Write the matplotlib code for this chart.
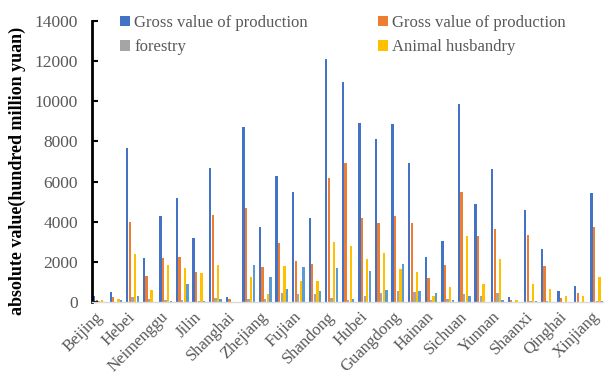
import matplotlib
matplotlib.use("Agg")
import matplotlib.pyplot as plt
import matplotlib.transforms as mtransforms
import numpy as np

provinces = ["Beijing", "Tianjin", "Hebei", "Shanxi", "Neimenggu", "Liaoning", "Jilin",
             "Heilongjiang", "Shanghai", "Jiangsu", "Zhejiang", "Anhui", "Fujian", "Jiangxi",
             "Shandong", "Henan", "Hubei", "Hunan", "Guangdong", "Guangxi", "Hainan",
             "Chongqing", "Sichuan", "Guizhou", "Yunnan", "Tibet", "Shaanxi", "Gansu",
             "Qinghai", "Ningxia", "Xinjiang"]

total = [280, 490, 7650, 2190, 4280, 5165, 3200, 6690, 265, 8730, 3720, 6275, 5480, 4200,
         12100, 10960, 8930, 8135, 8870, 6910, 2260, 3040, 9850, 4900, 6610, 230, 4580, 2660,
         530, 815, 5450]
farming = [110, 250, 4000, 1280, 2190, 2225, 1510, 4330, 150, 4680, 1760, 2920, 2040, 1910,
           6190, 6920, 4180, 3950, 4285, 3950, 1210, 1840, 5495, 3290, 3620, 90, 3320, 1790,
           215, 430, 3720]
forestry = [50, 20, 265, 150, 80, 100, 60, 180, 20, 150, 150, 465, 415, 380,
            215, 100, 300, 465, 550, 500, 100, 150, 400, 300, 465, 10, 30, 40,
            10, 20, 60]
animal = [80, 130, 2375, 580, 1840, 1680, 1460, 1840, 20, 1260, 380, 1790, 1045, 1060,
          2990, 2800, 2125, 2440, 1660, 1480, 315, 765, 3270, 900, 2160, 110, 900, 650,
          300, 315, 1260]
fishery = [10, 80, 315, 20, 50, 880, 50, 130, 20, 1830, 1260, 650, 1745, 550,
           1710, 130, 1560, 600, 1890, 565, 430, 100, 300, 20, 100, 0, 30, 10,
           5, 20, 30]

series_names = ["Gross value of production", "Gross value of production", "forestry",
                "Animal husbandry", "fishery"]
colors = ["#4472C4", "#ED7D31", "#A5A5A5", "#FFC000", "#5B9BD5"]
yticks = [0, 2000, 4000, 6000, 8000, 10000, 12000, 14000]

serif = ["Liberation Serif", "DejaVu Serif"]
grey_text = "#595959"

W, H = 604, 374
fig = plt.figure(figsize=(W / 100, H / 100), dpi=100)
left, right, bottom, top = 92, 604, 302, 21
ax = fig.add_axes([left / W, (H - bottom) / H, (right - left) / W, (bottom - top) / H])

x = np.arange(len(provinces))
step = 0.157
bw = 0.14
data = [total, farming, forestry, animal, fishery]
handles = []
for k, (vals, c) in enumerate(zip(data, colors)):
    b = ax.bar(x + (k - 2) * step, vals, width=bw, color=c, linewidth=0)
    handles.append(b)

ax.set_xlim(-0.44, 30.43)
ax.set_ylim(0, 14000)
ax.set_yticks(yticks)
ax.set_yticklabels([str(v) for v in yticks], family=serif, fontsize=12.5, color=grey_text)
ax.tick_params(axis="y", direction="in", length=4, width=1.5, color="black", pad=10)

shown = x[::2]
ax.set_xticks(shown)
ax.set_xticklabels(provinces[::2], rotation=45, ha="right", va="top",
                   rotation_mode="anchor", family=serif, fontsize=12, color=grey_text)
ax.tick_params(axis="x", length=0, pad=5)
shift = mtransforms.ScaledTranslation(-5 / 100, 0, fig.dpi_scale_trans)
for lbl in ax.get_xticklabels():
    lbl.set_transform(lbl.get_transform() + shift)

for s in ["top", "right"]:
    ax.spines[s].set_visible(False)
ax.spines["left"].set_color("black")
ax.spines["left"].set_linewidth(2)
ax.spines["bottom"].set_color("#D9D9D9")
ax.spines["bottom"].set_linewidth(1)

ax.set_ylabel("absolute value(hundred million yuan)", family=serif, fontsize=13,
              fontweight="bold", color="black")
ax.yaxis.set_label_coords(-0.128, 0.465)

# legend laid out row by row: column one holds entries 0 and 2, column two 1 and 3
order = [0, 2, 1, 3]
leg = ax.legend([handles[i] for i in order], [series_names[i] for i in order], ncol=2,
                loc="upper left", bbox_to_anchor=(0.025, 1.075), frameon=False,
                prop={"family": serif, "size": 12}, handlelength=0.6, handleheight=0.6,
                handletextpad=0.25, columnspacing=4.2, labelspacing=0.5)
for t in leg.get_texts():
    t.set_color(grey_text)

fig.savefig("out.png", dpi=100)
